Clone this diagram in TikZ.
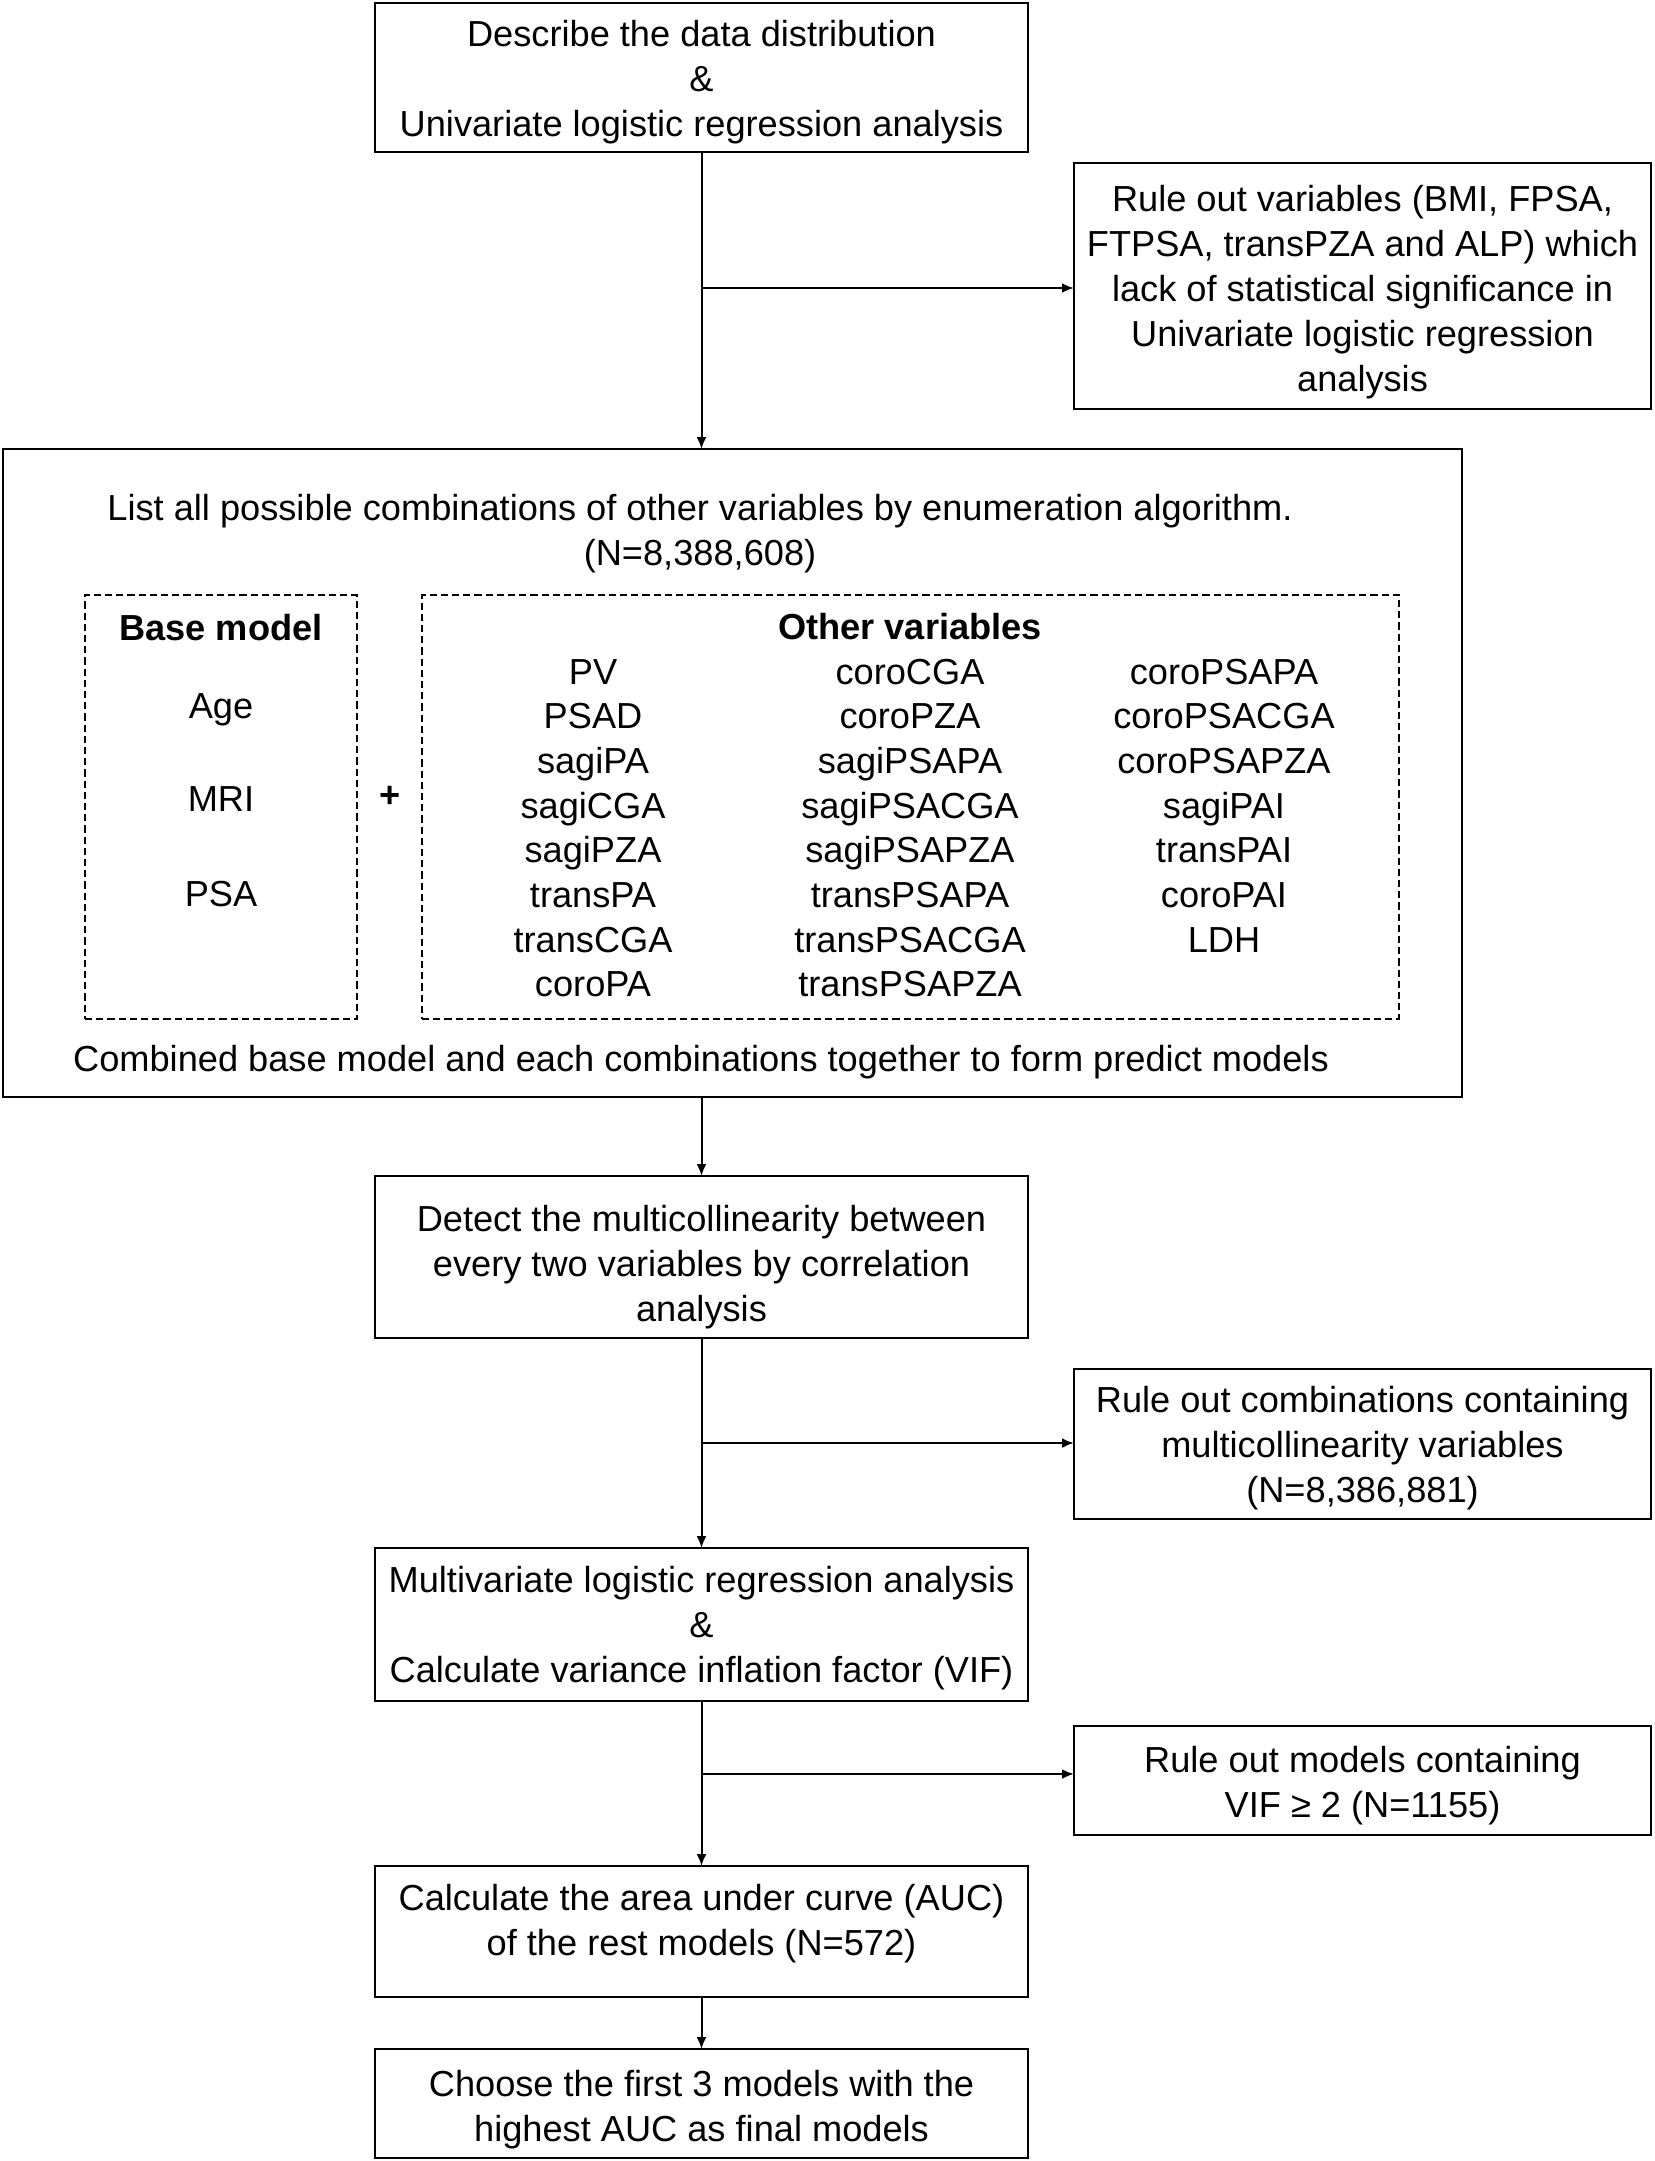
\documentclass[tikz,border=0pt]{standalone}
\usepackage{fontspec}
\setmainfont{Liberation Sans}
\usetikzlibrary{arrows.meta}
\begin{document}
\begin{tikzpicture}[x=0.5pt,y=-0.5pt,
  every node/.style={inner sep=0pt,outer sep=0pt,font=\fontsize{18.1}{22.4}\selectfont},
  box/.style={draw,line width=1.25pt},
  dbox/.style={draw,line width=1.1pt,dash pattern=on 3.6pt off 2pt},
  txt/.style={align=center},
  item/.style={anchor=base},
  hd/.style={anchor=base,font=\fontsize{18.1}{22.4}\selectfont\bfseries},
  mainarrow/.style={line width=1pt,-{Latex[length=6pt,width=5pt]}},
  brarrow/.style={line width=1.2pt,-{Latex[length=6pt,width=5pt]}}
]
\useasboundingbox (0,0) rectangle (1654,2161);
% main boxes (frames)
\node[box,minimum width=653*0.5pt,minimum height=149*0.5pt] (b1) at (701.5,77.5) {};
\node[box,minimum width=577*0.5pt,minimum height=246*0.5pt] (r1) at (1362.5,286) {};
\node[box,minimum width=1459*0.5pt,minimum height=648*0.5pt] (big) at (732.5,773) {};
\node[box,minimum width=653*0.5pt,minimum height=162*0.5pt] (b2) at (701.5,1257) {};
\node[box,minimum width=577*0.5pt,minimum height=150*0.5pt] (r2) at (1362.5,1444) {};
\node[box,minimum width=653*0.5pt,minimum height=153*0.5pt] (b3) at (701.5,1624.5) {};
\node[box,minimum width=577*0.5pt,minimum height=109*0.5pt] (r3) at (1362.5,1780.5) {};
\node[box,minimum width=653*0.5pt,minimum height=131*0.5pt] (b4) at (701.5,1931.5) {};
\node[box,minimum width=653*0.5pt,minimum height=109*0.5pt] (b5) at (701.5,2103.5) {};
% texts
\node[txt] (b1t) at (701.5,82.4)
  {Describe the data distribution\\\&\\Univariate logistic regression analysis};
\node[txt] (r1t) at (1362.5,292.2)
  {Rule out variables (BMI, FPSA,\\FTPSA, transPZA and ALP) which\\lack of statistical significance in\\Univariate logistic regression\\analysis};
\node[txt] (bigt) at (700,533.4)
  {List all possible combinations of other variables by enumeration algorithm.\\(N=8,388,608)};
\node[txt] (bigb) at (701,1062) {Combined base model and each combinations together to form predict models};
\node[txt] (b2t) at (701.5,1267.3)
  {Detect the multicollinearity between\\every two variables by correlation\\analysis};
\node[txt] (r2t) at (1362.5,1448)
  {Rule out combinations containing\\multicollinearity variables\\(N=8,386,881)};
\node[txt] (b3t) at (701.5,1628)
  {Multivariate logistic regression analysis\\\&\\Calculate variance inflation factor (VIF)};
\node[txt] (r3t) at (1362.5,1785.6)
  {Rule out models containing\\VIF ≥ 2 (N=1155)};
\node[txt] (b4t) at (701.5,1924)
  {Calculate the area under curve (AUC)\\of the rest models (N=572)};
\node[txt] (b5t) at (701.5,2109.4)
  {Choose the first 3 models with the\\highest AUC as final models};
% dashed boxes
\node[dbox,minimum width=272*0.5pt,minimum height=424*0.5pt] (base) at (221,807) {};
\node[dbox,minimum width=977*0.5pt,minimum height=424*0.5pt] (oth) at (910.5,807) {};
\node[hd] (baseh) at (221,640) {Base model};
\node[item] (age) at (221,718) {Age};
\node[item] (mri) at (221,811) {MRI};
\node[item] (psa) at (221,906) {PSA};
\node[font=\fontsize{18.1}{22.4}\selectfont\bfseries] (plus) at (390,797) {+};
\node[hd] (othh) at (910,639) {Other variables};
\foreach \t [count=\i from 0] in {PV,PSAD,sagiPA,sagiCGA,sagiPZA,transPA,transCGA,coroPA}
  \node[item] (c1\i) at (593,684+44.7*\i) {\t};
\foreach \t [count=\i from 0] in {coroCGA,coroPZA,sagiPSAPA,sagiPSACGA,sagiPSAPZA,transPSAPA,transPSACGA,transPSAPZA}
  \node[item] (c2\i) at (910,684+44.7*\i) {\t};
\foreach \t [count=\i from 0] in {coroPSAPA,coroPSACGA,coroPSAPZA,sagiPAI,transPAI,coroPAI,LDH}
  \node[item] (c3\i) at (1224,684+44.7*\i) {\t};
% connectors
\coordinate (j1) at (701.5,288);
\coordinate (j2) at (701.5,1443);
\coordinate (j3) at (701.5,1774);
\draw[mainarrow] (b1.south) -- (b1.south |- big.north);
\draw[brarrow] (j1) -- (j1 -| r1.west);
\draw[mainarrow] (big.south -| b2.north) -- (b2.north);
\draw[mainarrow] (b2.south) -- (b3.north);
\draw[brarrow] (j2) -- (j2 -| r2.west);
\draw[mainarrow] (b3.south) -- (b4.north);
\draw[brarrow] (j3) -- (j3 -| r3.west);
\draw[mainarrow] (b4.south) -- (b5.north);
\end{tikzpicture}
\end{document}
